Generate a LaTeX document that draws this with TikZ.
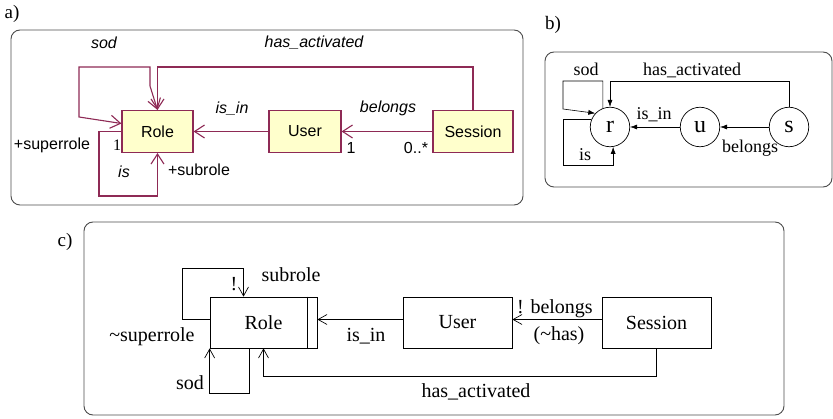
\documentclass[tikz,border=0pt]{standalone}
\usepackage{fontspec}
\setmainfont{Liberation Serif}
\newfontfamily\umlfont{Liberation Sans}
\usepackage{xcolor}
\usepackage{tikz}
\usetikzlibrary{positioning,calc,arrows.meta}
\definecolor{umlrose}{HTML}{8E2A55}
\definecolor{umlfill}{HTML}{FFFFCC}

\begin{document}
\begin{tikzpicture}[x=1pt, y=-1pt,
					frame/.style={draw=black!70, line width=0.9pt, rounded corners=9pt},
					tag/.style={font=\fontsize{19}{19}\selectfont},
					umlclass/.style={
						draw=umlrose, fill=umlfill, line width=1.1pt,
						minimum height=42pt, inner sep=0pt,
						font=\umlfont\fontsize{16}{16}\selectfont
					},
					umlline/.style={draw=umlrose, line width=1.1pt},
					umlnav/.style={umlline, -{Straight Barb[length=10pt,width=13pt]}},
					umltext/.style={font=\umlfont\fontsize{16}{16}\selectfont},
					umlrole/.style={font=\umlfont\itshape\fontsize{16}{16}\selectfont},
					graphnode/.style={
						circle, draw, line width=0.7pt,
						minimum size=39.5pt, inner sep=0pt,
						font=\fontsize{24}{24}\selectfont
					},
					graphedge/.style={draw, line width=0.6pt, -{Latex[length=7pt,width=5pt]}},
					graphtext/.style={font=\fontsize{18}{18}\selectfont},
					plainclass/.style={
						draw, line width=0.7pt,
						minimum height=51pt, minimum width=109pt, inner sep=0pt,
						font=\fontsize{20}{20}\selectfont
					},
					plainnav/.style={draw, line width=0.7pt, -{Straight Barb[length=9pt,width=10pt]}},
					plaintext/.style={font=\fontsize{20}{20}\selectfont}
					]
					\useasboundingbox (0,0) rectangle (833,419);
					
					% --- a) UML ---
					\node[tag] (tagA) at (12,14) {a)};
					\draw[frame] (11,30) rectangle (523,205);
					\node[umlclass, minimum width=71pt] (Role) at (157.5,131.5) {Role};
					\node[umlclass, minimum width=72pt] (User) at (305,131.5) {User};
					\node[umlclass, minimum width=80pt] (Session) at (473,131.5) {Session};
					
					\coordinate (actTop) at (157.5,67);
					\coordinate (sodTop) at (79,67);
					\coordinate (sodLeft) at (79,117);
					\coordinate (sodBend) at (150,86);
					\coordinate (isBottom) at (99,196);
					
					\draw[umlnav] (User) -- (Role);
					\draw[umlnav] (Session) -- (User);
					\draw[umlnav] (Session.north) |- (actTop) -- (Role.north);
					\draw[umlline, {Straight Barb[length=10pt,width=13pt]}-{Straight Barb[length=10pt,width=13pt]}]
						($(Role.west)+(0,-8)$) -- (sodLeft) -- (sodTop) -| (sodBend) -- (Role.north);
					\draw[umlnav] (Role.west) -| (isBottom) -| (Role.south);
					
					\node[umlrole] (aSod) at (104,43) {sod};
					\node[umlrole] (aAct) at (314,43) {has\_activated};
					\node[umlrole] (aIsIn) at (232,109) {is\_in};
					\node[umlrole] (aBelongs) at (388,108) {belongs};
					\node[umltext] (aOne) at (351,148) {1};
					\node[umltext] (aMany) at (416,148) {0..*};
					\node[umltext] (aSuper) at (52,145) {+superrole};
					\node[font=\fontsize{16}{16}\selectfont] (aRoleOne) at (117,145) {1};
					\node[umlrole] (aIs) at (124,172) {is};
					\node[umltext] (aSub) at (199,170) {+subrole};
					
					% --- b) graph ---
					\node[tag] (tagB) at (553,25) {b)};
					\draw[frame] (545,52) rectangle (832,187);
					\node[graphnode] (r) at (610,127) {r};
					\node[graphnode] (u) at (700,127) {u};
					\node[graphnode] (s) at (789,127) {s};
					
					\coordinate (bActTop) at (610,81);
					\coordinate (bSodTop) at (563,81);
					\coordinate (bSodLeft) at (563,109);
					\coordinate (bIsBottom) at (563,165);
					
					\draw[graphedge] (u) -- (r);
					\draw[graphedge] (s) -- (u);
					\draw[graphedge] (s.north) |- (bActTop) -- (r.north);
					\draw[graphedge] (r.111) |- (bSodTop) -- (bSodLeft) -- (r.137);
					\draw[graphedge] (r.159) -| (bIsBottom) -| (r.-81);
					
					\node[graphtext] (bAct) at (692,70) {has\_activated};
					\node[graphtext] (bSod) at (586,69) {sod};
					\node[graphtext] (bIsIn) at (654,115) {is\_in};
					\node[graphtext] (bBelongs) at (750,148) {belongs};
					\node[graphtext] (bIs) at (585,155) {is};
					
					% --- c) classes ---
					\node[tag] (tagC) at (65,242) {c)};
					\draw[frame] (84,222) rectangle (784,415);
					\node[plainclass, minimum width=107pt] (cRole) at (263.5,322.5) {Role};
					\node[plainclass] (cUser) at (457.5,322.5) {User};
					\node[plainclass] (cSession) at (656.5,322.5) {Session};
					\draw[line width=0.7pt] ([xshift=-10pt]cRole.north east) -- ([xshift=-10pt]cRole.south east);
					
					\coordinate (cSubTop) at (182,268);
					
					\draw[plainnav] ($(cUser.west)+(0,-3)$) -- ($(cRole.east)+(0,-3)$);
					\draw[plainnav] ($(cSession.west)+(0,-3)$) -- ($(cUser.east)+(0,-3)$);
					\draw[plainnav] (cSession.south) -- ++(0,28) -| (cRole.south);
					\draw[plainnav] ($(cRole.west)+(0,-3)$) -| (cSubTop) -| ($(cRole.north)+(-20,0)$);
					\draw[plainnav] ($(cRole.south)+(-14,0)$) -- ++(0,45) -| (cRole.south west);
					
					\node[plaintext] (cIsIn) at (366,336) {is\_in};
					\node[plaintext] (cBelongs) at (555,309) {! belongs};
					\node[plaintext] (cHas) at (559,336) {(\textasciitilde has)};
					\node[plaintext] (cAct) at (476,392) {has\_activated};
					\node[plaintext] (cBang) at (234,284) {!};
					\node[plaintext] (cSub) at (291,275) {subrole};
					\node[plaintext] (cSuper) at (152,337) {\textasciitilde superrole};
					\node[plaintext] (cSod) at (190,383) {sod};
					
				\end{tikzpicture}
\end{document}
